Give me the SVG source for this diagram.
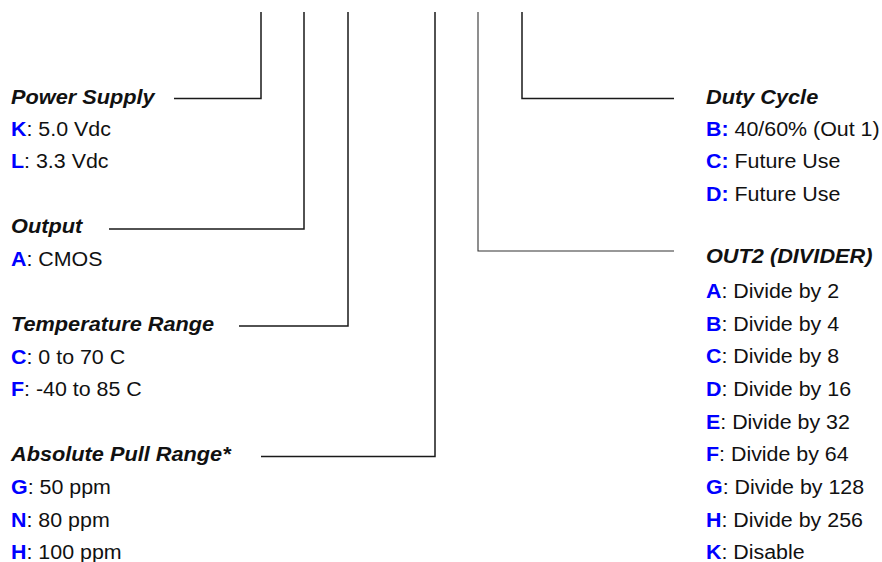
<svg xmlns="http://www.w3.org/2000/svg" width="882" height="562" viewBox="0 0 882 562">
<style>
.t{font-family:"Liberation Sans",Arial,sans-serif;font-size:20px;fill:#111}
.h{font-weight:bold;font-style:italic;font-size:20.3px}
.k{font-weight:bold;fill:#0000ff}
.c{fill:none;stroke:#1a1a1a;stroke-width:1.5}
.c2{fill:none;stroke:#333;stroke-width:1.1}
</style>
<rect width="882" height="562" fill="#fff"/>
<g id="connectors">
<polyline class="c" points="174,98.5 261,98.5 261,12"/>
<polyline class="c" points="109,229 304,229 304,12"/>
<polyline class="c" points="239,326 348,326 348,12"/>
<polyline class="c" points="261,456.5 435,456.5 435,12"/>
<polyline class="c" points="674,98.5 522,98.5 522,12"/>
<polyline class="c2" points="674,251 478,251 478,12"/>
</g>
<g transform="scale(1.07 1)">
<g id="power-supply" class="t">
<text x="10.3" y="104" class="t h">Power Supply</text>
<text x="10.3" y="136" class="t"><tspan class="k">K</tspan>: 5.0 Vdc</text>
<text x="10.3" y="168" class="t"><tspan class="k">L</tspan>: 3.3 Vdc</text>
</g>
<g id="output" class="t">
<text x="10.3" y="233" class="t h">Output</text>
<text x="10.3" y="266" class="t"><tspan class="k">A</tspan>: CMOS</text>
</g>
<g id="temperature-range" class="t">
<text x="10.3" y="331" class="t h">Temperature Range</text>
<text x="10.3" y="364" class="t"><tspan class="k">C</tspan>: 0 to 70 C</text>
<text x="10.3" y="396" class="t"><tspan class="k">F</tspan>: -40 to 85 C</text>
</g>
<g id="pull-range" class="t">
<text x="10.3" y="461" class="t h">Absolute Pull Range*</text>
<text x="10.3" y="494" class="t"><tspan class="k">G</tspan>: 50 ppm</text>
<text x="10.3" y="527" class="t"><tspan class="k">N</tspan>: 80 ppm</text>
<text x="10.3" y="559" class="t"><tspan class="k">H</tspan>: 100 ppm</text>
</g>
<g id="duty-cycle" class="t">
<text x="659.8" y="104" class="t h">Duty Cycle</text>
<text x="659.8" y="136" class="t"><tspan class="k">B:</tspan> 40/60% (Out 1)</text>
<text x="659.8" y="168" class="t"><tspan class="k">C:</tspan> Future Use</text>
<text x="659.8" y="201" class="t"><tspan class="k">D:</tspan> Future Use</text>
</g>
<g id="out2-divider" class="t">
<text x="659.8" y="263" class="t h">OUT2 (DIVIDER)</text>
<text x="659.8" y="298" class="t"><tspan class="k">A</tspan>: Divide by 2</text>
<text x="659.8" y="331" class="t"><tspan class="k">B</tspan>: Divide by 4</text>
<text x="659.8" y="363" class="t"><tspan class="k">C</tspan>: Divide by 8</text>
<text x="659.8" y="396" class="t"><tspan class="k">D</tspan>: Divide by 16</text>
<text x="659.8" y="429" class="t"><tspan class="k">E</tspan>: Divide by 32</text>
<text x="659.8" y="461" class="t"><tspan class="k">F</tspan>: Divide by 64</text>
<text x="659.8" y="494" class="t"><tspan class="k">G</tspan>: Divide by 128</text>
<text x="659.8" y="527" class="t"><tspan class="k">H</tspan>: Divide by 256</text>
<text x="659.8" y="559" class="t"><tspan class="k">K</tspan>: Disable</text>
</g>
</g>
</svg>
